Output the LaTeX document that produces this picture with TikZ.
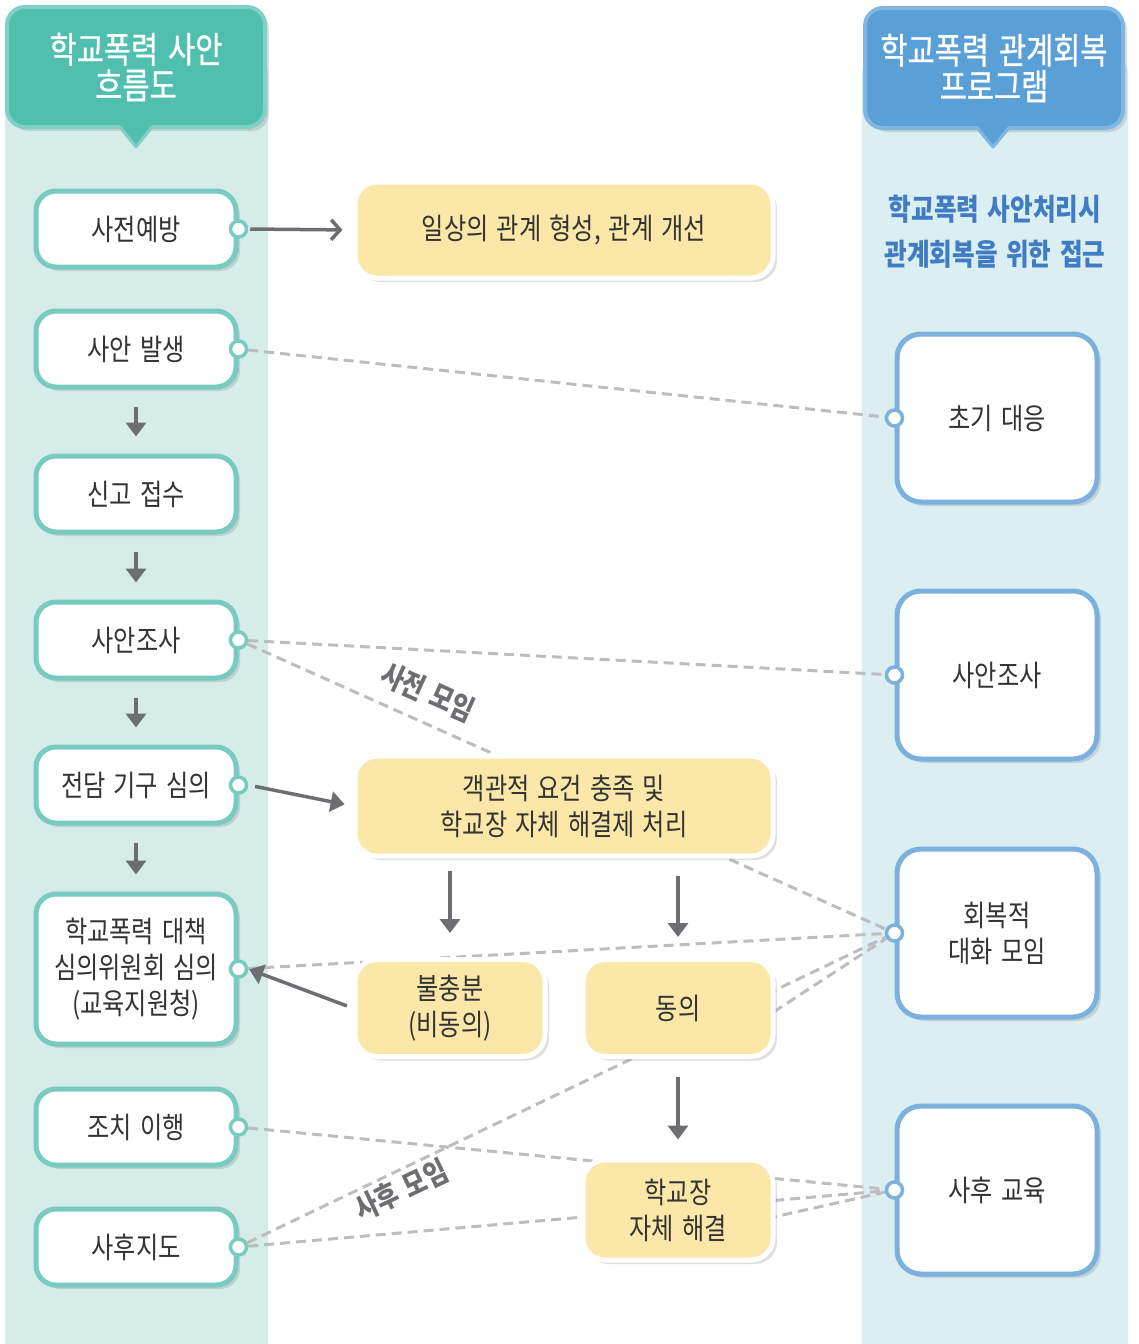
\documentclass[tikz,border=0pt]{standalone}
\usepackage{fontspec}
\newfontfamily\kr[FakeStretch=0.82,WordSpace=1.5]{Noto Sans CJK KR}
\newfontfamily\krm[FakeStretch=0.82,WordSpace=1.5,FakeBold=0.8]{Noto Sans CJK KR}
\usetikzlibrary{arrows.meta,shadows}
\pgfdeclarelayer{bg}\pgfdeclarelayer{lines}
\pgfsetlayers{bg,lines,main}
\definecolor{hdrTfill}{HTML}{50BFB0}
\definecolor{hdrTline}{HTML}{80D0C5}
\definecolor{colT}{HTML}{D5ECE8}
\definecolor{portT}{HTML}{78CBBF}
\definecolor{hdrBfill}{HTML}{5A9FD5}
\definecolor{hdrBline}{HTML}{80B6E2}
\definecolor{colB}{HTML}{DBEEF2}
\definecolor{portB}{HTML}{7DB1DD}
\definecolor{yel}{HTML}{FBE8A8}
\definecolor{arrc}{HTML}{6D6E71}
\definecolor{dashc}{HTML}{BDBDC0}
\definecolor{txt}{HTML}{333333}
\definecolor{blueT}{HTML}{3F7CC4}
\begin{document}
\begin{tikzpicture}[x=1pt,y=-1pt,
  shd/.style={drop shadow={opacity=0.25,shadow xshift=4pt,shadow yshift=-4pt}},
  txtfont/.style={font=\kr\fontsize{29.5}{36}\selectfont, text=txt, align=center},
  lnode/.style={txtfont, draw=portT, line width=5pt, fill=white, rounded corners=20pt,
     minimum width=200pt, minimum height=76pt, inner sep=2pt, shd},
  rnode/.style={txtfont, draw=portB, line width=5pt, fill=white, rounded corners=24pt,
     minimum width=200pt, minimum height=168pt, shd},
  ybox/.style={txtfont, fill=yel, draw=white, line width=5pt, rounded corners=22pt,
     minimum width=190pt, minimum height=97pt, shd},
  portl/.style={circle, draw=portT, line width=3.5pt, fill=white, minimum size=16pt, inner sep=0pt},
  portr/.style={circle, draw=portB, line width=3.5pt, fill=white, minimum size=16pt, inner sep=0pt},
  hdr/.style={font=\krm\fontsize{36}{36}\selectfont, text=white, align=center,
     line width=4pt, rounded corners=18pt, minimum width=258pt, minimum height=120pt, shd},
  arr/.style={draw=arrc, line width=3.5pt, -{Triangle[length=14pt,width=20pt]}},
  dsh/.style={draw=dashc, line width=3pt, dash pattern=on 10pt off 6pt},
  lbl/.style={font=\kr\bfseries\fontsize{30}{30}\selectfont, text=arrc}
]
\useasboundingbox (0,0) rectangle (1139,1344);
\begin{pgfonlayer}{bg}
\fill[colT, rounded corners=12pt] (5,60) rectangle (268,1360);
\fill[colB, rounded corners=12pt] (862,60) rectangle (1128,1360);
\end{pgfonlayer}

% headers
\node[hdr, fill=hdrTfill, draw=hdrTline] (h1) at (136,67) {학교폭력 사안\\흐름도};
\fill[hdrTfill] (119,124) -- (136,146) -- (153,124) -- cycle;
\draw[hdrTline, line width=3pt, line join=round] (121,128) -- (136,147) -- (151,128);
\node[hdr, fill=hdrBfill, draw=hdrBline] (h2) at (994,68) {학교폭력 관계회복\\프로그램};
\fill[hdrBfill] (977,125) -- (993,146) -- (1009,125) -- cycle;
\draw[hdrBline, line width=3pt, line join=round] (978,129) -- (993,147) -- (1008,129);
\node[font=\kr\bfseries\fontsize{30}{45}\selectfont, text=blueT, align=center] (bt) at (995,232)
  {학교폭력 사안처리시\\관계회복을 위한 접근};

% left nodes
\node[lnode] (n1) at (136,229) {사전예방};
\node[lnode] (n2) at (136,349) {사안 발생};
\node[lnode] (n3) at (136,494) {신고 접수};
\node[lnode] (n4) at (136,640) {사안조사};
\node[lnode] (n5) at (136,785) {전담 기구 심의};
\node[lnode, minimum height=150pt] (n6) at (136,969) {학교폭력 대책\\심의위원회 심의\\(교육지원청)};
\node[lnode] (n7) at (136,1127) {조치 이행};
\node[lnode] (n8) at (136,1247) {사후지도};
\foreach \i in {1,2,4,5,6,7,8} {\node[portl] (p\i) at (n\i.east) {};}

% yellow boxes
\node[ybox, minimum width=418pt, minimum height=96pt] (y1) at (564,230) {일상의 관계 형성, 관계 개선};
\node[ybox, minimum width=418pt, minimum height=100pt] (y2) at (564,806) {객관적 요건 충족 및\\학교장 자체 해결제 처리};
\node[ybox] (y3) at (450,1008) {불충분\\(비동의)};
\node[ybox] (y4) at (678,1008) {동의};
\node[ybox, minimum height=100pt] (y5) at (678,1210) {학교장\\자체 해결};

% right nodes
\node[rnode] (r1) at (997,418) {초기 대응};
\node[rnode] (r2) at (997,675) {사안조사};
\node[rnode] (r3) at (997,933) {회복적\\대화 모임};
\node[rnode] (r4) at (997,1190) {사후 교육};
\foreach \i in {1,2,3,4} {\node[portr] (q\i) at (r\i.west) {};}

\coordinate (dsrc) at (720,1047);
\coordinate (hsrc) at (720,1229);

% dashed connectors
\begin{pgfonlayer}{lines}
\draw[dsh] (p2) -- (q1);
\draw[dsh] (p4) -- (q2);
\draw[dsh] (p4) -- (q3);
\draw[dsh] (p6) -- (q3);
\draw[dsh] (p8) -- (q3);
\draw[dsh] (dsrc) -- (q3);
\draw[dsh] (p7) -- (q4);
\draw[dsh] (p8) -- (q4);
\draw[dsh] (hsrc) -- (q4);
\end{pgfonlayer}
\node[lbl, rotate=-24] (l1) at (428,692) {사전 모임};
\node[lbl, rotate=25.5] (l2) at (401,1190) {사후 모임};

% solid arrows
\draw[draw=arrc, line width=3.5pt, -{Straight Barb[length=9pt,width=20pt,line width=3.5pt]}, shorten <=2pt, shorten >=10pt] (p1.east) -- (y1.west);
\draw[arr, shorten <=7pt, shorten >=8pt] (p5.east) -- (y2.west);
\draw[arr, shorten <=6pt, shorten >=1pt] (y3.west) -- (p6.east);
\draw[arr, shorten <=17pt, shorten >=17pt] (n2.south) -- (n3.north);
\draw[arr, shorten <=17pt, shorten >=17pt] (n3.south) -- (n4.north);
\draw[arr, shorten <=17pt, shorten >=17pt] (n4.south) -- (n5.north);
\draw[arr, shorten <=17pt, shorten >=17pt] (n5.south) -- (n6.north);
\draw[arr, shorten <=12pt, shorten >=24pt] (y3.north |- y2.south) -- (y3.north);
\draw[arr, shorten <=17pt, shorten >=20pt] (y4.north |- y2.south) -- (y4.north);
\draw[arr, shorten <=18pt, shorten >=18pt] (y4.south) -- (y5.north);
\end{tikzpicture}
\end{document}
